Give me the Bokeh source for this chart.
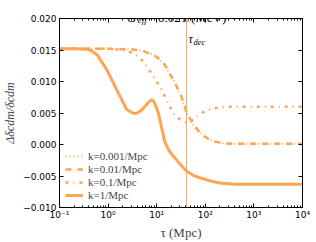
import numpy as np
from bokeh.plotting import figure
from bokeh.models import (Label, Legend, LegendItem, LinearAxis, LogAxis, Range1d, LinearScale,
                          FixedTicker, LogTicker, CustomJSTickFormatter, Span)
from bokeh.embed import file_html
from bokeh.resources import INLINE

# ---------------- data ----------------
tau_k0001 = [0.1, 1.0, 3.1, 5.0, 7.9, 10, 14.6, 18.4, 23, 32, 41, 57, 76, 96, 115, 150, 240, 400, 1000, 10000]
d_k0001 = [0.0152, 0.0152, 0.0151, 0.0149, 0.0143, 0.0139, 0.0127, 0.0113, 0.0100, 0.0076, 0.0051,
           0.0030, 0.0020, 0.0013, 0.0009, 0.0005, 0.0002, 0.0001, 0.0001, 0.0001]

tau_k001 = [0.1, 1.0, 3.1, 5.0, 7.9, 10, 14.6, 18.4, 23, 32, 41, 57, 76, 96, 115, 150, 240, 400, 1000, 10000]
d_k001 = [0.0152, 0.0152, 0.0151, 0.0149, 0.0143, 0.0139, 0.0127, 0.0113, 0.0100, 0.0077, 0.0052,
          0.0031, 0.0020, 0.0013, 0.0009, 0.0005, 0.0002, 0.0001, 0.0001, 0.0001]

tau_k01 = [0.1, 1.0, 2.0, 3.4, 5.5, 7.6, 10, 12.6, 17.6, 23, 28, 32, 40, 47, 60, 76, 100, 120, 190, 340, 1000, 10000]
d_k01 = [0.0152, 0.0152, 0.0150, 0.0145, 0.0131, 0.0114, 0.0100, 0.0087, 0.0064, 0.0048, 0.0042,
         0.0038, 0.0035, 0.0036, 0.0042, 0.0048, 0.0053, 0.0055, 0.0059, 0.0060, 0.0060, 0.0060]

tau_k1 = [0.1, 0.2, 0.37, 0.45, 0.6, 0.95, 1.5, 2.0, 2.4, 3.0, 3.5, 4.0, 5.0, 6.3, 7.2, 7.9, 8.6, 9.3,
          10.0, 11.0, 12.6, 14.6, 17.5, 20.2, 28, 41, 60, 115, 200, 400, 1000, 10000]
d_k1 = [0.0152, 0.0152, 0.0151, 0.0149, 0.0142, 0.0118, 0.0087, 0.0068, 0.0056, 0.0051, 0.0049, 0.0050,
        0.0055, 0.0064, 0.0069, 0.0071, 0.0069, 0.0064, 0.0057, 0.0048, 0.0027, 0.0005, -0.0008,
        -0.0015, -0.0028, -0.0042, -0.0050, -0.0057, -0.0061, -0.0063, -0.0063, -0.0063]

legend_labels = ["k=0.001/Mpc", "k=0.01/Mpc", "k=0.1/Mpc", "k=1/Mpc"]
tau_dec = 41.0
y_ticks = [-0.010, -0.005, 0.0, 0.005, 0.010, 0.015, 0.020]
x_min, x_max = 0.1, 1e4
y_min, y_max = -0.010, 0.020

# ---------------- layout ----------------
ORANGE = "#ffa552"
SERIF = "Liberation Serif"
SANS = "DejaVu Sans"

W, H = 316, 242
FX0, FX1, FY0, FY1 = 57, 302, 18, 209          # frame edges in page pixels
BL, BR, BT, BB = FX0, W - FX1, FY0, H - FY1

p = figure(width=W, height=H, x_axis_type="log", x_range=(x_min, x_max), y_range=(y_min, y_max),
           output_backend="svg", toolbar_location=None,
           min_border_left=BL, min_border_right=BR, min_border_top=BT, min_border_bottom=BB)
p.xgrid.visible = False
p.ygrid.visible = False
p.outline_line_color = "black"
p.outline_line_width = 1
p.background_fill_color = "white"
p.border_fill_color = "white"

# linear pixel ranges (relative to the frame) for placing texts
p.extra_x_ranges = {"px": Range1d(0, FX1 - FX0)}
p.extra_y_ranges = {"px": Range1d(0, FY1 - FY0)}
p.extra_x_scales = {"px": LinearScale()}
p.extra_y_scales = {"px": LinearScale()}

sup_code = """
const e = Math.round(Math.log10(tick));
const sup = {"-":"\\u207b","0":"\\u2070","1":"\\u00b9","2":"\\u00b2","3":"\\u00b3","4":"\\u2074",
             "5":"\\u2075","6":"\\u2076","7":"\\u2077","8":"\\u2078","9":"\\u2079"};
return "10" + String(e).split("").map(c => sup[c]).join("");
"""
yfmt_code = """return (tick < -1e-12 ? "\\u2212" : "") + Math.abs(tick).toFixed(3);"""
blank = CustomJSTickFormatter(code="return '';")


def style_axis(ax, minor=True):
    ax.axis_line_color = "black"
    ax.major_tick_line_color = "black"
    ax.major_tick_in = 4
    ax.major_tick_out = 0
    if minor:
        ax.minor_tick_line_color = "black"
        ax.minor_tick_in = 2
        ax.minor_tick_out = 0
    else:
        ax.minor_tick_line_color = None
    ax.major_label_text_font = SANS
    ax.major_label_text_font_size = "9px"
    ax.major_label_text_color = "black"


xax = p.xaxis[0]
xax.ticker = LogTicker(desired_num_ticks=6, num_minor_ticks=10)
xax.formatter = CustomJSTickFormatter(code=sup_code)
xax.major_label_standoff = 2
xax.axis_label = "\u03c4 (Mpc)"
xax.axis_label_text_font = SERIF
xax.axis_label_text_font_style = "normal"
xax.axis_label_text_font_size = "13px"
xax.axis_label_standoff = 2
style_axis(xax)

yax = p.yaxis[0]
yax.ticker = FixedTicker(ticks=y_ticks)
yax.formatter = CustomJSTickFormatter(code=yfmt_code)
yax.major_label_standoff = 3
yax.axis_label = "\u0394\u03b4cdm/\u03b4cdm"
yax.axis_label_text_font = SERIF
yax.axis_label_text_font_style = "italic"
yax.axis_label_text_font_size = "12px"
yax.axis_label_standoff = 3
style_axis(yax, minor=False)

top = LogAxis(ticker=LogTicker(desired_num_ticks=6, num_minor_ticks=10), formatter=blank,
              major_label_standoff=0)
style_axis(top)
p.add_layout(top, "above")
right = LinearAxis(ticker=FixedTicker(ticks=y_ticks), formatter=blank, major_label_standoff=0)
style_axis(right, minor=False)
p.add_layout(right, "right")

# ---------------- curves ----------------
r1 = p.line(tau_k0001, d_k0001, line_color=ORANGE, line_width=2, line_dash="1 3")
r2 = p.line(tau_k001, d_k001, line_color=ORANGE, line_width=2.5, line_dash="6 6")
r3 = p.line(tau_k01, d_k01, line_color=ORANGE, line_width=2.5, line_dash="3 5 1 5")
r4 = p.line(tau_k1, d_k1, line_color=ORANGE, line_width=3)

p.add_layout(Span(location=tau_dec, dimension="height", line_color=ORANGE, line_width=1))

legend = Legend(items=[LegendItem(label=legend_labels[i], renderers=[r])
                       for i, r in enumerate([r1, r2, r3, r4])],
                location="bottom_left", margin=1, padding=5, spacing=1,
                glyph_width=18, glyph_height=12, label_height=12, label_standoff=5,
                label_text_font=SERIF, label_text_font_size="11px",
                background_fill_alpha=0, border_line_alpha=0)
p.add_layout(legend)


def lab(px, py, text, size, style="normal", align="left"):
    p.add_layout(Label(x=px - FX0, y=FY1 - py, x_range_name="px", y_range_name="px",
                       text=text, text_font=SERIF, text_font_size=size,
                       text_font_style=style, text_align=align, text_baseline="alphabetic",
                       text_color="black", level="overlay"))


# title
lab(125, 17, "G", "13px", "italic")
lab(136, 19.5, "eff", "9px", "italic")
lab(149, 17, "=0.021/(MeV)", "13px")
lab(223, 10, "2", "9px")

# tau_dec
lab(187, 39, "\u03c4", "12px", "italic")
lab(192, 41.5, "dec", "8.5px", "italic")

open("out.html", "w").write(file_html(p, INLINE))
